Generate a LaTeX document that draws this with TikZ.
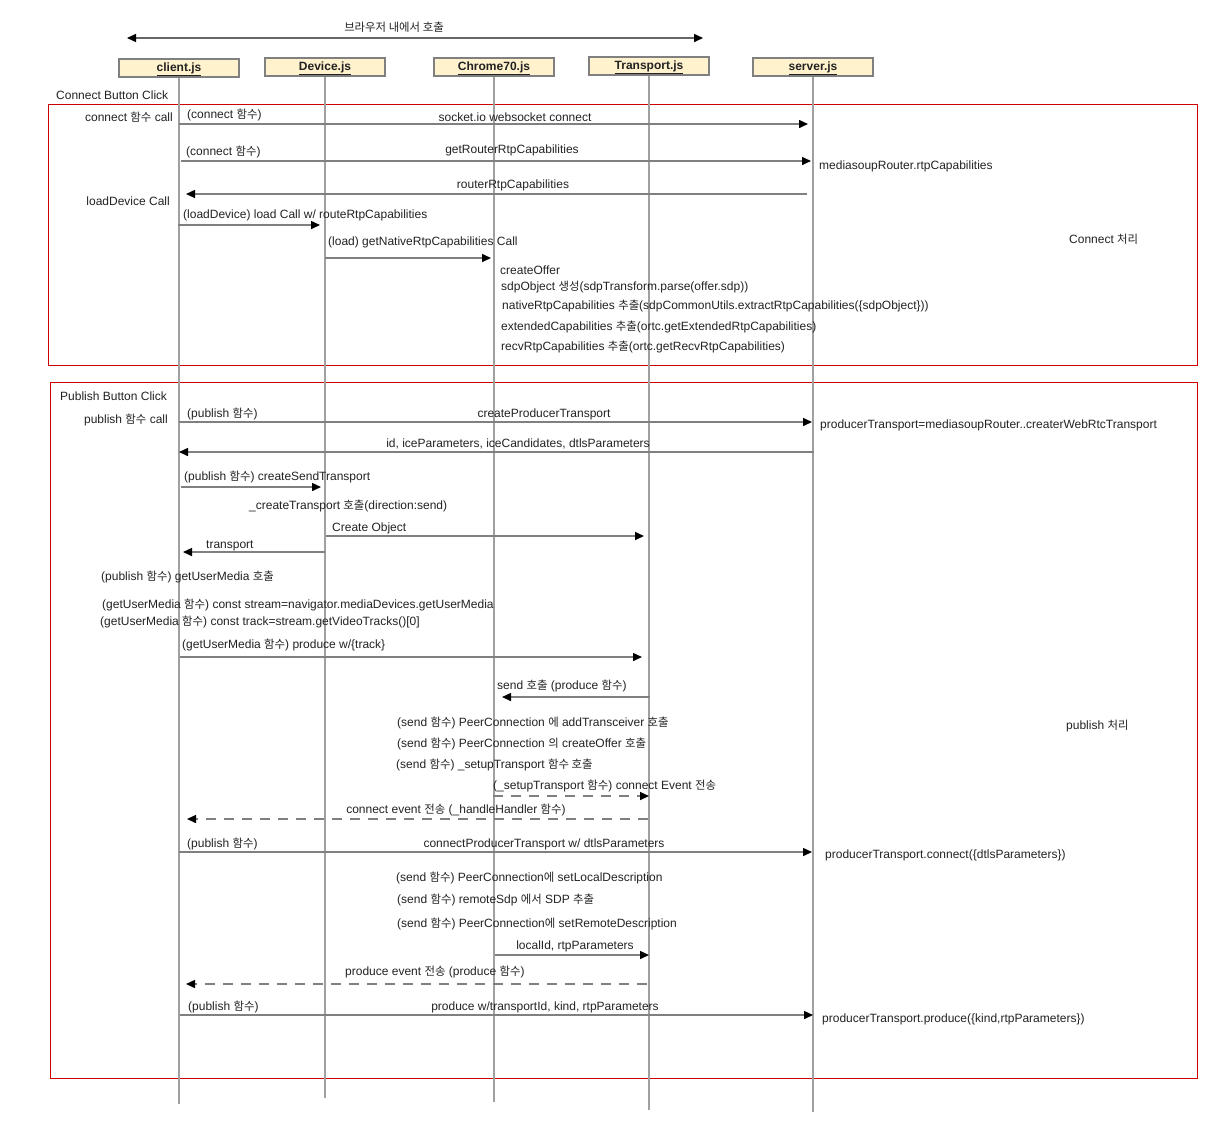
\documentclass[tikz,border=0pt]{standalone}
\usepackage{fontspec}
\setmainfont{Liberation Sans}
\newfontfamily\krf{Noto Sans CJK KR}[Scale=0.95]
\usetikzlibrary{arrows.meta}
\newcommand\ko[1]{{\krf #1}}
\newcommand\hdrtext[1]{\raisebox{-1.5pt}{\underline{#1}}}
\definecolor{hdrfill}{HTML}{FFF2CC}
\definecolor{lifegray}{HTML}{A0A0A0}
\definecolor{arrgray}{HTML}{808080}
\definecolor{framered}{HTML}{CC0000}
\definecolor{txt}{HTML}{222222}
\newcommand\msgline[5]{%
  \coordinate (#5a) at (#2,#4);
  \coordinate (#5b) at (#3,#4);
  \draw[#1] (#5a) -- (#5b);}
\begin{document}
\begin{tikzpicture}[x=1pt,y=-1pt,
  every node/.style={font=\fontsize{12}{14}\selectfont, inner sep=0pt, text=txt},
  lbl/.style={anchor=west, yshift=-1pt},
  rlbl/.style={anchor=east, yshift=-1pt},
  clbl/.style={anchor=center, yshift=-1pt},
  head/.style={draw=arrgray, line width=1.5pt, fill=hdrfill, minimum width=120pt, minimum height=18pt, text height=7.5pt, text depth=4.5pt, font=\bfseries\fontsize{12}{14}\selectfont},
  life/.style={draw=lifegray, line width=1.5pt},
  msg/.style={draw=arrgray, line width=1.5pt, -{Triangle[length=9pt,width=8pt,color=black]}},
  dmsg/.style={msg, dash pattern=on 10pt off 8pt},
  frame/.style={draw=framered, line width=1pt}]
\useasboundingbox (0,0) rectangle (1217,1133);

% frames
\node[frame, minimum width=1149pt, minimum height=261pt, anchor=north west] (fconn) at (48,104) {};
\node[frame, minimum width=1147pt, minimum height=696pt, anchor=north west] (fpub) at (50,382) {};

% headers
\node[head] (cl) at (179,68) {\hdrtext{client.js}};
\node[head] (dv) at (325,67) {\hdrtext{Device.js}};
\node[head] (ch) at (494,67) {\hdrtext{Chrome70.js}};
\node[head] (tr) at (649,66) {\hdrtext{Transport.js}};
\node[head] (sv) at (813,67) {\hdrtext{server.js}};

% lifelines
\coordinate (clb) at (179,1104);
\coordinate (dvb) at (325,1098);
\coordinate (chb) at (494,1102);
\coordinate (trb) at (649,1110);
\coordinate (svb) at (813,1112);
\draw[life] (cl) -- (clb);
\draw[life] (dv) -- (dvb);
\draw[life] (ch) -- (chb);
\draw[life] (tr) -- (trb);
\draw[life] (sv) -- (svb);

% top browser arrow
\coordinate (topl) at (127,38);
\coordinate (topr) at (703,38);
\draw[draw=arrgray!80!black, line width=1.5pt, {Triangle[length=9pt,width=8pt,color=black]}-{Triangle[length=9pt,width=8pt,color=black]}] (topl) -- (topr);
\node[clbl] (tbrowser) at (394,26) {\krf 브라우저 내에서 호출};

% ===== Connect section =====
\node[lbl] (tconnclick) at (56,94) {Connect Button Click};
\node[rlbl] (tconncall) at (173,116) {connect \ko{함수} call};
\node[lbl] (tconnf1) at (187,114) {(connect \ko{함수})};
\msgline{msg}{179}{808}{124}{ma}
\node[clbl] (tsock) at (515,116) {socket.io websocket connect};
\node[lbl] (tconnf2) at (186,151) {(connect \ko{함수})};
\msgline{msg}{181}{811}{161}{mb}
\node[clbl] (tgetrtp) at (512,149) {getRouterRtpCapabilities};
\node[lbl] (tmsrouter) at (819,165) {mediasoupRouter.rtpCapabilities};
\msgline{msg}{807}{186}{194}{mc}
\node[clbl] (trouterrtp) at (513,184) {routerRtpCapabilities};
\node[rlbl] (tloaddev) at (170,200) {loadDevice Call};
\node[lbl] (tloadcall) at (183,214) {(loadDevice) load Call w/ routeRtpCapabilities};
\msgline{msg}{178}{320}{225}{md}
\node[lbl] (tnative) at (328,241) {(load) getNativeRtpCapabilities Call};
\msgline{msg}{325}{491}{258}{me}
\node[lbl] (tcoffer) at (500,269) {createOffer};
\node[lbl] (tsdpobj) at (501,286) {sdpObject \ko{생성}(sdpTransform.parse(offer.sdp))};
\node[lbl] (tnatcap) at (502,305) {nativeRtpCapabilities \ko{추출}(sdpCommonUtils.extractRtpCapabilities(\{sdpObject\}))};
\node[lbl] (textcap) at (501,326) {extendedCapabilities \ko{추출}(ortc.getExtendedRtpCapabilities)};
\node[lbl] (trecvcap) at (501,346) {recvRtpCapabilities \ko{추출}(ortc.getRecvRtpCapabilities)};
\node[lbl] (tconnproc) at (1069,238) {Connect \ko{처리}};

% ===== Publish section =====
\node[lbl] (tpubclick) at (60,395) {Publish Button Click};
\node[rlbl] (tpubcall) at (168,419) {publish \ko{함수} call};
\node[lbl] (tpubf1) at (187,413) {(publish \ko{함수})};
\msgline{msg}{179}{812}{422}{mf}
\node[clbl] (tcpt) at (544,413) {createProducerTransport};
\node[lbl] (tptmr) at (820,424) {producerTransport=mediasoupRouter..createrWebRtcTransport};
\msgline{msg}{814}{179}{452}{mg}
\node[clbl] (tidice) at (518,443) {id, iceParameters, iceCandidates, dtlsParameters};
\node[lbl] (tcst) at (184,476) {(publish \ko{함수}) createSendTransport};
\msgline{msg}{181}{321}{487}{mh}
\node[lbl] (tctcall) at (249,505) {\_createTransport \ko{호출}(direction:send)};
\node[lbl] (tcobj) at (332,527) {Create Object};
\msgline{msg}{326}{644}{536}{mi}
\node[lbl] (ttransport) at (206,545) {transport};
\msgline{msg}{325}{183}{552}{mj}
\node[lbl] (tgum) at (101,576) {(publish \ko{함수}) getUserMedia \ko{호출}};
\node[lbl] (tstream) at (102,604) {(getUserMedia \ko{함수}) const stream=navigator.mediaDevices.getUserMedia};
\node[lbl] (ttrack) at (100,621) {(getUserMedia \ko{함수}) const track=stream.getVideoTracks()[0]};
\node[lbl] (tproduce) at (182,644) {(getUserMedia \ko{함수}) produce w/\{track\}};
\msgline{msg}{180}{642}{657}{mk}
\node[lbl] (tsend) at (497,685) {send \ko{호출} (produce \ko{함수})};
\msgline{msg}{650}{502}{697}{ml}
\node[lbl] (taddtr) at (397,722) {(send \ko{함수}) PeerConnection \ko{에} addTransceiver \ko{호출}};
\node[lbl] (tcroff) at (397,743) {(send \ko{함수}) PeerConnection \ko{의} createOffer \ko{호출}};
\node[lbl] (tsetup) at (396,764) {(send \ko{함수}) \_setupTransport \ko{함수 호출}};
\node[lbl] (tconnev) at (493,785) {(\_setupTransport \ko{함수}) connect Event \ko{전송}};
\msgline{dmsg}{493}{649}{796}{mm}
\node[clbl] (tconnev2) at (456,809) {connect event \ko{전송} (\_handleHandler \ko{함수})};
\msgline{dmsg}{648}{187}{819}{mn}
\node[lbl] (tpubf2) at (187,843) {(publish \ko{함수})};
\msgline{msg}{179}{812}{852}{mo}
\node[clbl] (tcpt2) at (544,843) {connectProducerTransport w/ dtlsParameters};
\node[lbl] (tptconn) at (825,854) {producerTransport.connect(\{dtlsParameters\})};
\node[lbl] (tsetlocal) at (396,877) {(send \ko{함수}) PeerConnection\ko{에} setLocalDescription};
\node[lbl] (tremsdp) at (397,899) {(send \ko{함수}) remoteSdp \ko{에서} SDP \ko{추출}};
\node[lbl] (tsetremote) at (397,923) {(send \ko{함수}) PeerConnection\ko{에} setRemoteDescription};
\node[clbl] (tlocalid) at (575,945) {localId, rtpParameters};
\msgline{msg}{495}{649}{955}{mp}
\node[lbl] (tprodev) at (345,971) {produce event \ko{전송} (produce \ko{함수})};
\msgline{dmsg}{647}{186}{984}{mq}
\node[lbl] (tpubf3) at (188,1006) {(publish \ko{함수})};
\msgline{msg}{180}{813}{1015}{mr}
\node[clbl] (tprodw) at (545,1006) {produce w/transportId, kind, rtpParameters};
\node[lbl] (tptprod) at (822,1018) {producerTransport.produce(\{kind,rtpParameters\})};
\node[lbl] (tpubproc) at (1066,725) {publish \ko{처리}};
\end{tikzpicture}
\end{document}
